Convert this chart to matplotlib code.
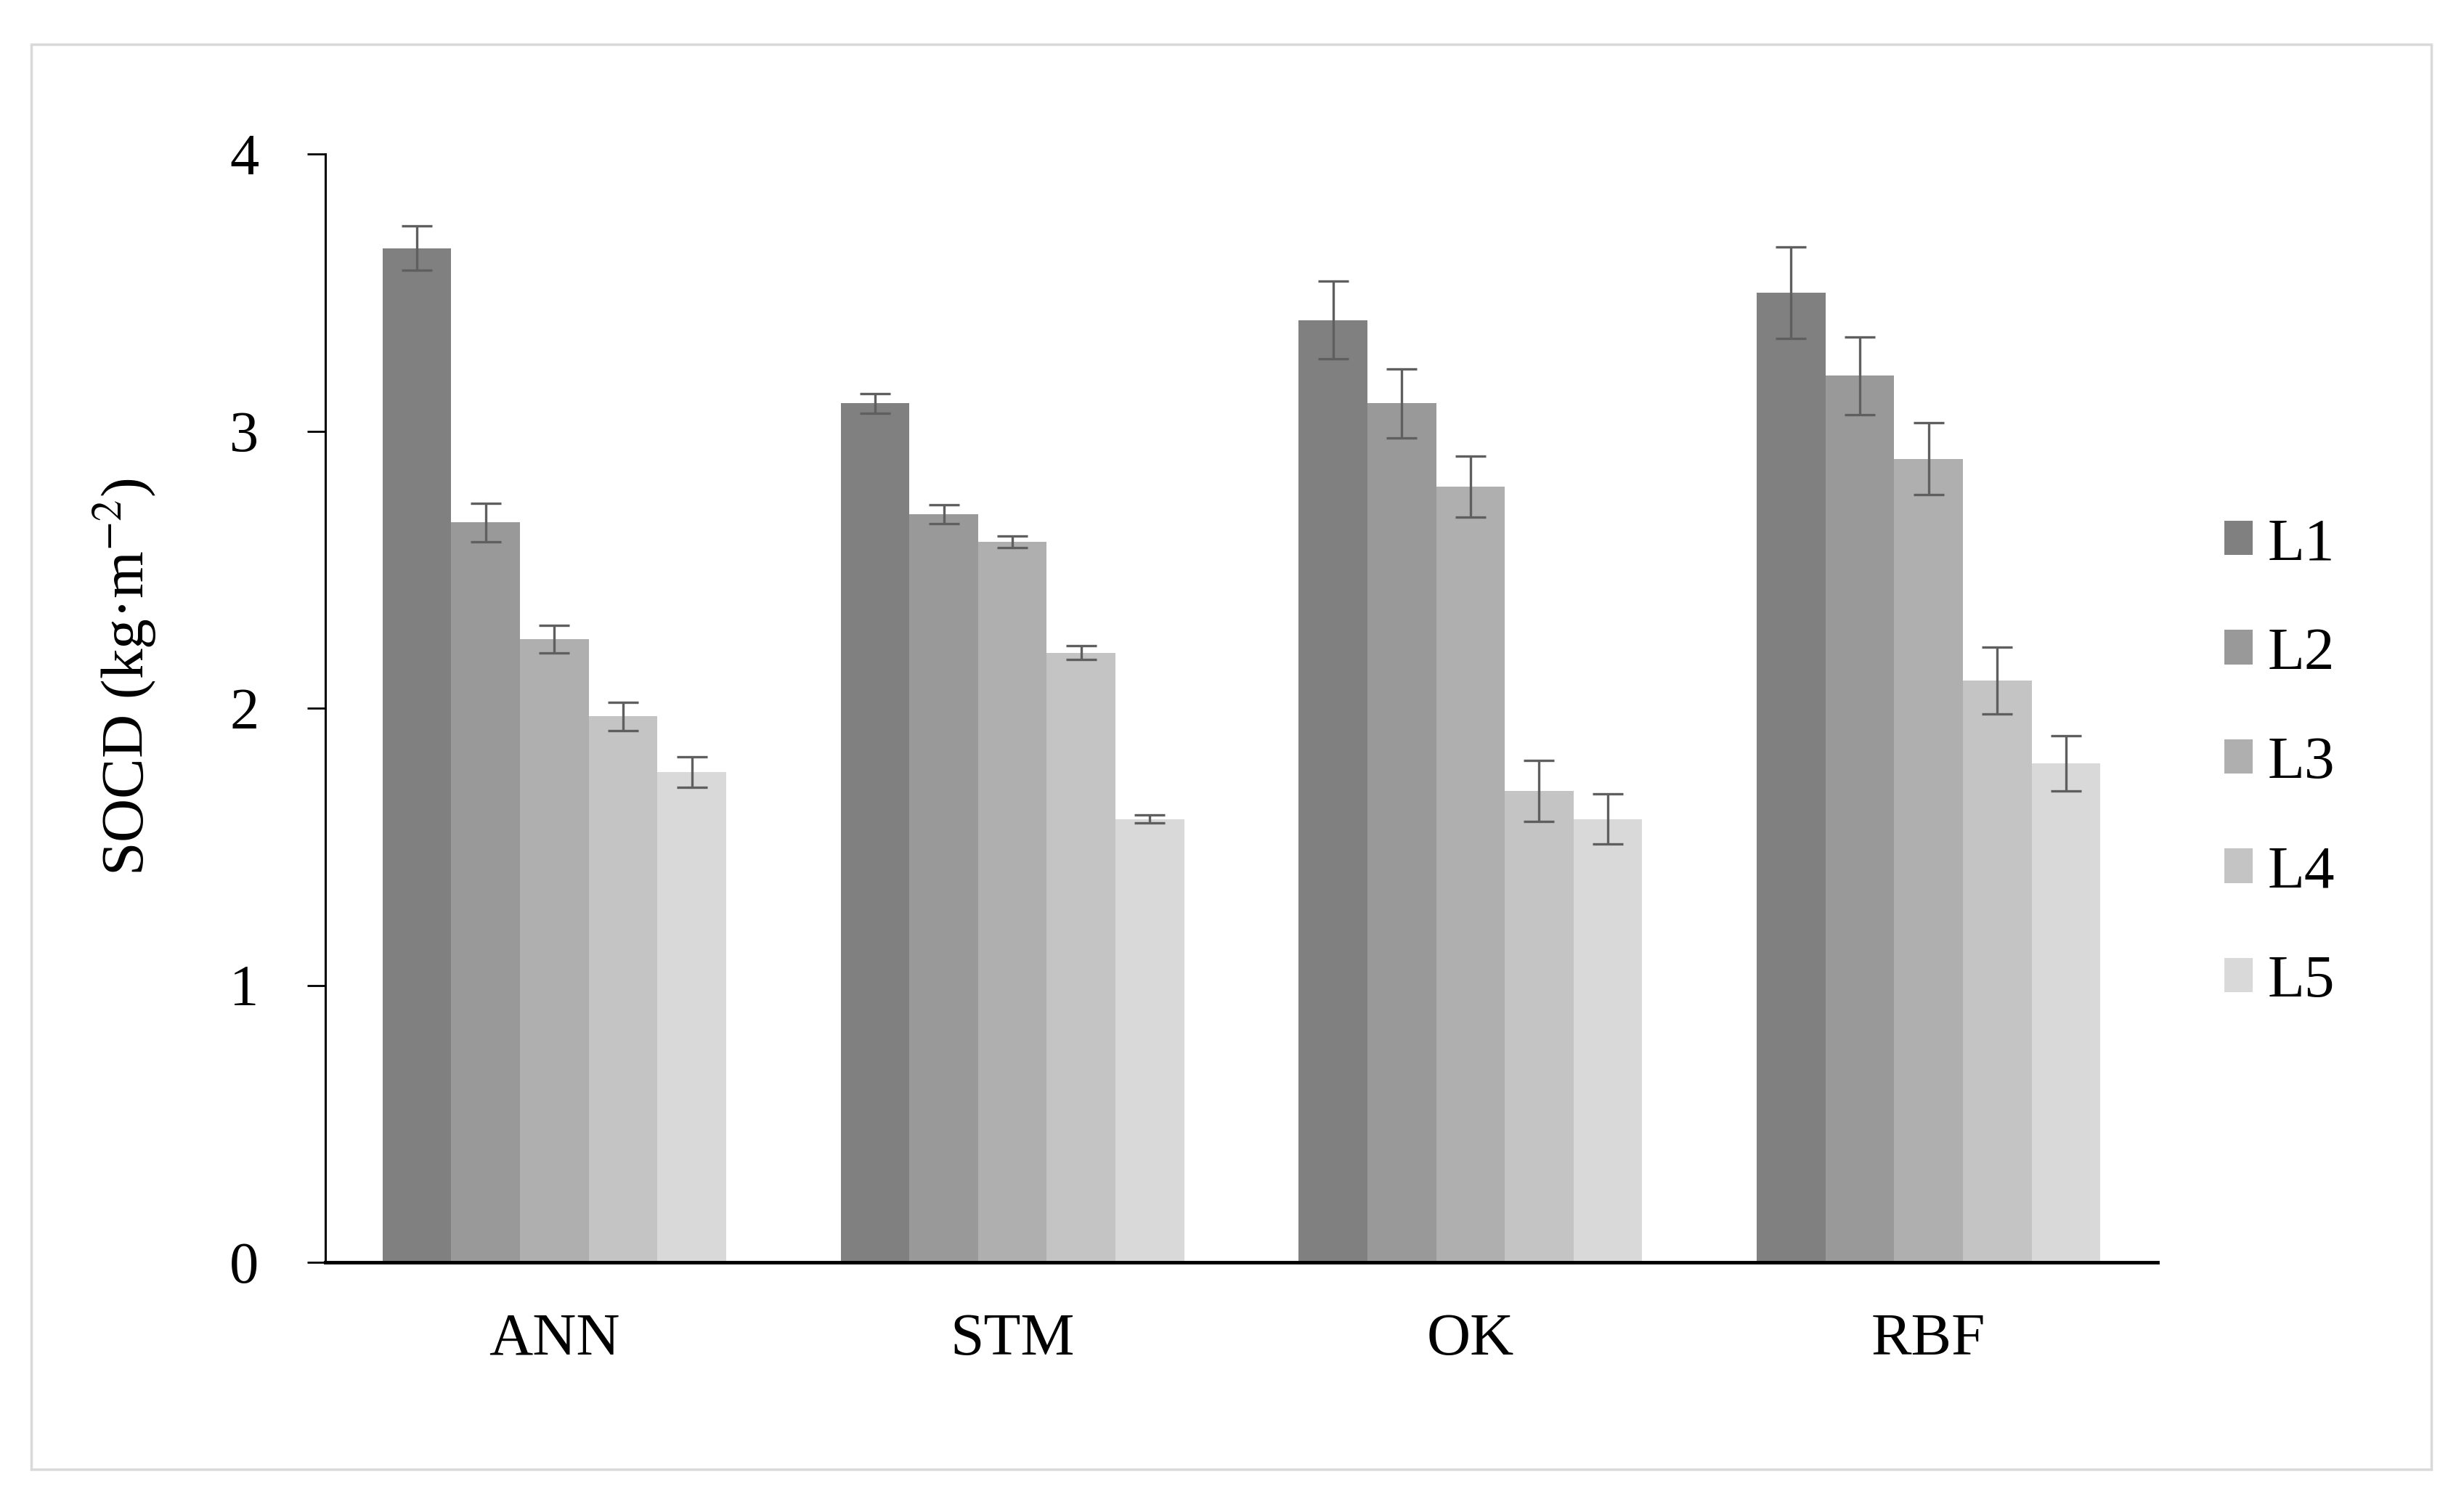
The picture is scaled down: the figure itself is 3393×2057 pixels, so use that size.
import matplotlib
matplotlib.use("Agg")
import matplotlib.pyplot as plt
import numpy as np
from matplotlib.patches import Rectangle

plt.rcParams['font.family'] = ['Liberation Serif', 'DejaVu Serif']
plt.rcParams['mathtext.fontset'] = 'stix'

categories = ["ANN", "STM", "OK", "RBF"]
series_names = ["L1", "L2", "L3", "L4", "L5"]
values = {
    "L1": [3.66, 3.10, 3.40, 3.50],
    "L2": [2.67, 2.70, 3.10, 3.20],
    "L3": [2.25, 2.60, 2.80, 2.90],
    "L4": [1.97, 2.20, 1.70, 2.10],
    "L5": [1.77, 1.60, 1.60, 1.80],
}
errors = {
    "L1": [0.08, 0.035, 0.14, 0.165],
    "L2": [0.07, 0.035, 0.125, 0.14],
    "L3": [0.05, 0.02, 0.11, 0.13],
    "L4": [0.05, 0.025, 0.11, 0.12],
    "L5": [0.055, 0.015, 0.09, 0.10],
}
colors = ["#808080", "#999999", "#afafaf", "#c4c4c4", "#d9d9d9"]
yticks = [0, 1, 2, 3, 4]

W, H = 3393, 2057
fig = plt.figure(figsize=(W / 100, H / 100), dpi=100)
ax = fig.add_axes([448 / W, 1 - 1738 / H, (2971 - 448) / W, (1738 - 212) / H])

x = np.arange(len(categories))
bw = 0.15
for i, name in enumerate(series_names):
    pos = x + (i - 2) * bw
    ax.bar(pos, values[name], width=bw, color=colors[i], label=name, zorder=2)
    ax.errorbar(pos, values[name], yerr=errors[name], fmt='none', ecolor="#5f5f5f",
                elinewidth=2.4, capsize=15, capthick=2.4, zorder=3)

ax.set_xlim(-0.5, 3.5)
ax.set_ylim(0, 4)
ax.set_yticks(yticks)
ax.set_yticklabels([str(t) for t in yticks])
ax.set_xticks(x)
ax.set_xticklabels(categories)
ax.tick_params(axis='x', length=0, pad=50, labelsize=60)
ax.tick_params(axis='y', length=18, width=2, pad=48, labelsize=58, direction='out')
for s in ['top', 'right']:
    ax.spines[s].set_visible(False)
ax.spines['left'].set_linewidth(2.2)
ax.spines['bottom'].set_linewidth(3.5)
ax.spines['bottom'].set_zorder(4)

ax.set_ylabel('SOCD (kg·m$^{-2}$)', fontsize=60, va='center')
ax.yaxis.set_label_coords(-0.109, 0.528)

leg = ax.legend(loc='center left', bbox_to_anchor=(1.0234, 0.45), frameon=False,
                fontsize=60, handlelength=0.46, handleheight=0.5,
                handletextpad=0.25, labelspacing=0.9, borderaxespad=0)

# outer border
fig.patches.append(Rectangle((43 / W, 1 - 2023 / H), (3348 - 43) / W, (2023 - 61) / H,
                             transform=fig.transFigure, fill=False,
                             edgecolor="#d9d9d9", linewidth=2.5))

fig.savefig("out.png", dpi=100, facecolor="white")
